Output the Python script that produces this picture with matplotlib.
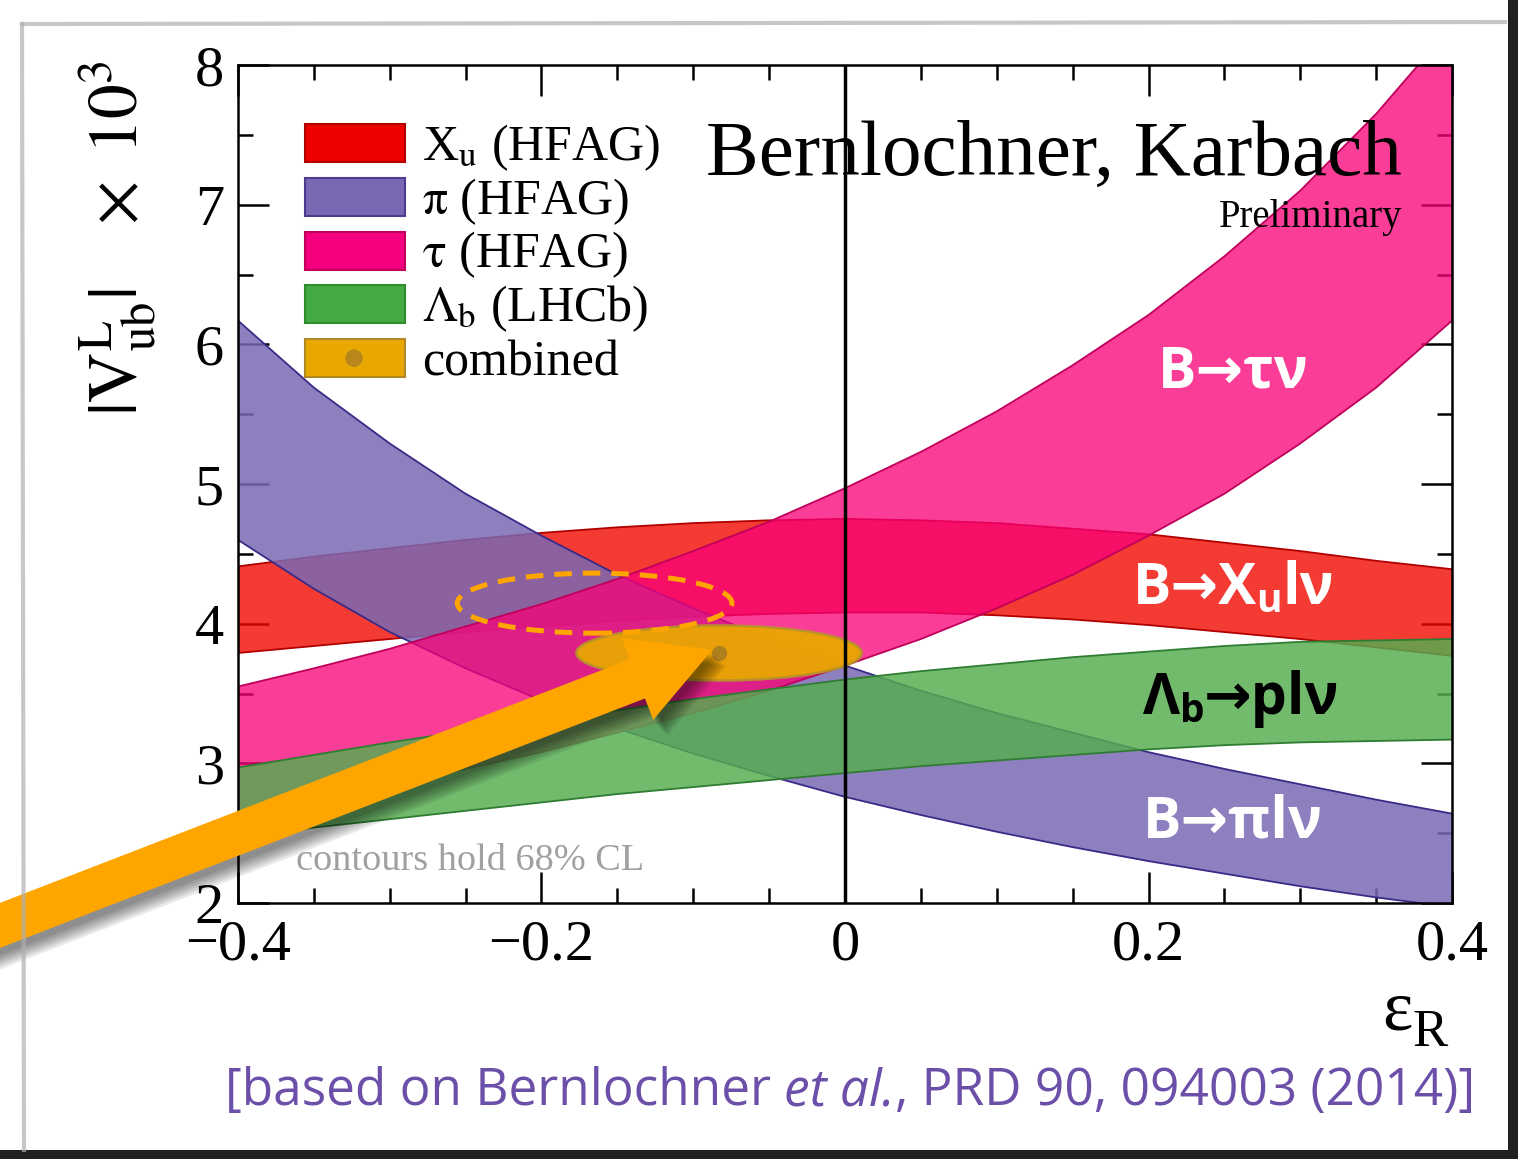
import matplotlib
matplotlib.use('Agg')
import matplotlib.pyplot as plt
from matplotlib.patches import Ellipse, Rectangle, Polygon, Circle
from matplotlib.ticker import MultipleLocator, FuncFormatter
import numpy as np

plt.rcParams['font.family'] = ['Liberation Serif', 'DejaVu Serif']
plt.rcParams['mathtext.fontset'] = 'stix'

# ---- values ----
eps = [-0.40, -0.35, -0.30, -0.25, -0.20, -0.15, -0.10, -0.05, 0.00,
       0.05, 0.10, 0.15, 0.20, 0.25, 0.30, 0.35, 0.40]

xu_hi = [4.41, 4.48, 4.54, 4.60, 4.65, 4.69, 4.72, 4.74, 4.75,
         4.74, 4.72, 4.68, 4.64, 4.58, 4.52, 4.45, 4.39]
xu_lo = [3.79, 3.84, 3.89, 3.94, 3.98, 4.02, 4.05, 4.07, 4.08,
         4.08, 4.06, 4.03, 3.99, 3.94, 3.89, 3.83, 3.77]

pi_hi = [6.17, 5.69, 5.29, 4.93, 4.63, 4.35, 4.11, 3.89, 3.70,
         3.52, 3.36, 3.22, 3.08, 2.96, 2.85, 2.74, 2.64]
pi_lo = [4.60, 4.25, 3.94, 3.68, 3.45, 3.25, 3.07, 2.91, 2.76,
         2.63, 2.51, 2.40, 2.30, 2.21, 2.12, 2.04, 1.97]

tau_hi = [3.55, 3.68, 3.82, 3.98, 4.14, 4.32, 4.52, 4.73, 4.97,
          5.23, 5.52, 5.85, 6.21, 6.63, 7.10, 7.65, 8.28]
tau_lo = [2.64, 2.74, 2.85, 2.96, 3.08, 3.22, 3.36, 3.52, 3.70,
          3.89, 4.11, 4.35, 4.63, 4.93, 5.29, 5.69, 6.17]

lam_hi = [2.97, 3.06, 3.15, 3.23, 3.31, 3.38, 3.46, 3.53, 3.60,
          3.66, 3.71, 3.76, 3.80, 3.84, 3.87, 3.88, 3.89]
lam_lo = [2.47, 2.54, 2.60, 2.66, 2.72, 2.78, 2.83, 2.88, 2.93,
          2.98, 3.02, 3.06, 3.10, 3.13, 3.15, 3.16, 3.17]

comb_center = (-0.083, 3.79)
comb_size = (0.188, 0.394)
old_center = (-0.165, 4.147)
old_size = (0.181, 0.43)

legend_labels = [r'X$_\mathrm{u}$ (HFAG)', r'$\mathrm{\pi}$ (HFAG)', r'$\mathrm{\tau}$ (HFAG)',
                 r'$\Lambda_\mathrm{b}$ (LHCb)', 'combined']

W, H = 1518, 1159
fig = plt.figure(figsize=(W / 100, H / 100), dpi=100)
fig.patch.set_facecolor('white')

ax = fig.add_axes([238 / W, 1 - 903 / H, (1452 - 238) / W, (903 - 65) / H])

bands = [
    (xu_lo, xu_hi, '#F00900', 0.80, '#B00000'),
    (pi_lo, pi_hi, '#7A69B3', 0.85, '#3A2A88'),
    (tau_lo, tau_hi, '#F90178', 0.76, '#C0005A'),
    (lam_lo, lam_hi, '#55AD50', 0.83, '#2E7D32'),
]
for i, (lo, hi, col, a, ec) in enumerate(bands):
    ax.fill_between(eps, lo, hi, facecolor=col, alpha=a, edgecolor='none', zorder=2 + i)
    ax.plot(eps, lo, color=ec, lw=1.3, zorder=2 + i)
    ax.plot(eps, hi, color=ec, lw=1.3, zorder=2 + i)

ax.add_patch(Ellipse(comb_center, comb_size[0], comb_size[1], facecolor='#E8A800',
                     edgecolor='#B8922A', lw=1.8, alpha=0.95, zorder=8))
ax.plot([comb_center[0]], [comb_center[1]], 'o', color='#B0801E', ms=10, zorder=9)
ax.add_patch(Ellipse(old_center, old_size[0], old_size[1], facecolor='none',
                     edgecolor='#FFA500', lw=3.6, ls=(0, (3.5, 2.2)), zorder=9))
ax.axvline(0, color='black', lw=2.5, zorder=10)

ax.set_xlim(-0.4, 0.4)
ax.set_ylim(2, 8)
ax.xaxis.set_major_locator(MultipleLocator(0.2))
ax.xaxis.set_minor_locator(MultipleLocator(0.05))
ax.yaxis.set_major_locator(MultipleLocator(1))
ax.yaxis.set_minor_locator(MultipleLocator(0.5))
ax.xaxis.set_major_formatter(FuncFormatter(
    lambda v, p: '0' if abs(v) < 1e-9 else ('%.1f' % v).replace('-', '\u2212')))
ax.yaxis.set_major_formatter(FuncFormatter(lambda v, p: '%d' % round(v)))
ax.tick_params(which='both', direction='in', top=True, right=True, width=1.8, labelsize=42)
ax.tick_params(which='major', length=22)
ax.tick_params(which='minor', length=11)
ax.tick_params(axis='x', pad=12)
ax.tick_params(axis='y', pad=10)
for s in ax.spines.values():
    s.set_linewidth(1.8)
    s.set_zorder(12)

# overlay in pixel coordinates for texts and decorations
ov = fig.add_axes([0, 0, 1, 1], zorder=5)
ov.set_xlim(0, W)
ov.set_ylim(H, 0)
ov.axis('off')

fig.canvas.draw()
rend = fig.canvas.get_renderer()


def runs(x, y, parts, ha='left', **kw):
    """draw text pieces side by side, parts = (text, size, dy, extra kwargs)"""
    objs, widths = [], []
    for txt, size, dy, extra in parts:
        o = dict(kw)
        o.update(extra)
        t = ov.text(0, y + dy, txt, fontsize=size, va='baseline', ha='left', **o)
        widths.append(t.get_window_extent(rend).width)
        objs.append(t)
    total = sum(widths)
    x0 = x - total / 2 if ha == 'center' else (x - total if ha == 'right' else x)
    for t, w in zip(objs, widths):
        t.set_x(x0)
        x0 += w
    return total


# axis labels
ov.text(118, 238, r'$|\mathrm{V}^{\mathrm{L}}_{\mathrm{ub}}|\quad\times\ 10^{3}$',
        rotation=90, ha='center', va='center', fontsize=50)
runs(1415, 1030, [('\u03b5', 52, 0, {}), ('R', 38, 16, {})], ha='center')

# legend
legend_cols = ['#EE0000', '#7B68B5', '#F5007F', '#44AA44', '#E8A800']
legend_edge = ['#B00000', '#4A3A90', '#C0005A', '#2E8B2E', '#B08A20']
for i, (lab, c, e) in enumerate(zip(legend_labels, legend_cols, legend_edge)):
    yc = 143 + i * 53.8
    ov.add_patch(Rectangle((305, yc - 19), 100, 38, facecolor=c, edgecolor=e, lw=1.5))
    ov.text(422, yc + 17, lab, fontsize=36, va='baseline', ha='left')
ov.add_patch(Circle((354, 143 + 4 * 53.8), 8, color='#B8861B'))

ov.text(1402, 175, 'Bernlochner, Karbach', fontsize=57, ha='right', va='baseline')
ov.text(1402, 227, 'Preliminary', fontsize=28, ha='right', va='baseline')
ov.text(296, 870, 'contours hold 68% CL', fontsize=27.5, color='#A0A0A0',
        ha='left', va='baseline')

# band labels
sans = dict(family=['Open Sans', 'DejaVu Sans'], fontweight='bold')
runs(1233, 388, [('B\u2192\u03c4\u03bd', 41, 0, {})], ha='center', color='white', **sans)
runs(1233, 604, [('B\u2192X', 41, 0, {}), ('u', 28, 8, {}), ('l\u03bd', 41, 0, {})],
     ha='center', color='white', **sans)
runs(1241, 714, [('\u039b', 41, 0, {}), ('b', 28, 8, {}), ('\u2192pl\u03bd', 41, 0, {})],
     ha='center', color='black', **sans)
runs(1233, 838, [('B\u2192\u03c0l\u03bd', 41, 0, {})], ha='center', color='white', **sans)

# citation line
cite = dict(family=['Open Sans', 'DejaVu Sans'], color='#6B4FA8')
runs(850, 1105, [('[based on Bernlochner ', 37, 0, {}),
                 ('et al.', 37, 0, {'style': 'italic'}),
                 (', PRD 90, 094003 (2014)]', 37, 0, {})], ha='center', **cite)

# big arrow pointing at the combined result
tail = np.array([-30.0, 937.0])
tip = np.array([712.0, 650.0])
u = (tip - tail) / np.linalg.norm(tip - tail)
n = np.array([-u[1], u[0]])
base = tip - u * 80
shaft, head = 21, 44
arrow_pts = np.array([tail + n * shaft, base + n * shaft, base + n * head, tip,
                      base - n * head, base - n * shaft, tail - n * shaft])
for k in range(6):
    off = np.array([4 + 2 * k, 6 + 2 * k])
    ov.add_patch(Polygon(arrow_pts + off, closed=True, facecolor='black',
                         edgecolor='none', alpha=0.09))
ov.add_patch(Polygon(arrow_pts, closed=True, facecolor='#FFA500', edgecolor='none'))

# paper edges
ov.plot([22, 1505], [24, 22], color='#B0B0B0', lw=3, alpha=0.7)
ov.plot([22, 24], [24, 1150], color='#B0B0B0', lw=3, alpha=0.7)
ov.add_patch(Rectangle((1508, 0), 12, H, facecolor='#202020', edgecolor='none'))
ov.add_patch(Rectangle((0, 1150), W, 12, facecolor='#202020', edgecolor='none'))

fig.savefig('out.png', dpi=100)
